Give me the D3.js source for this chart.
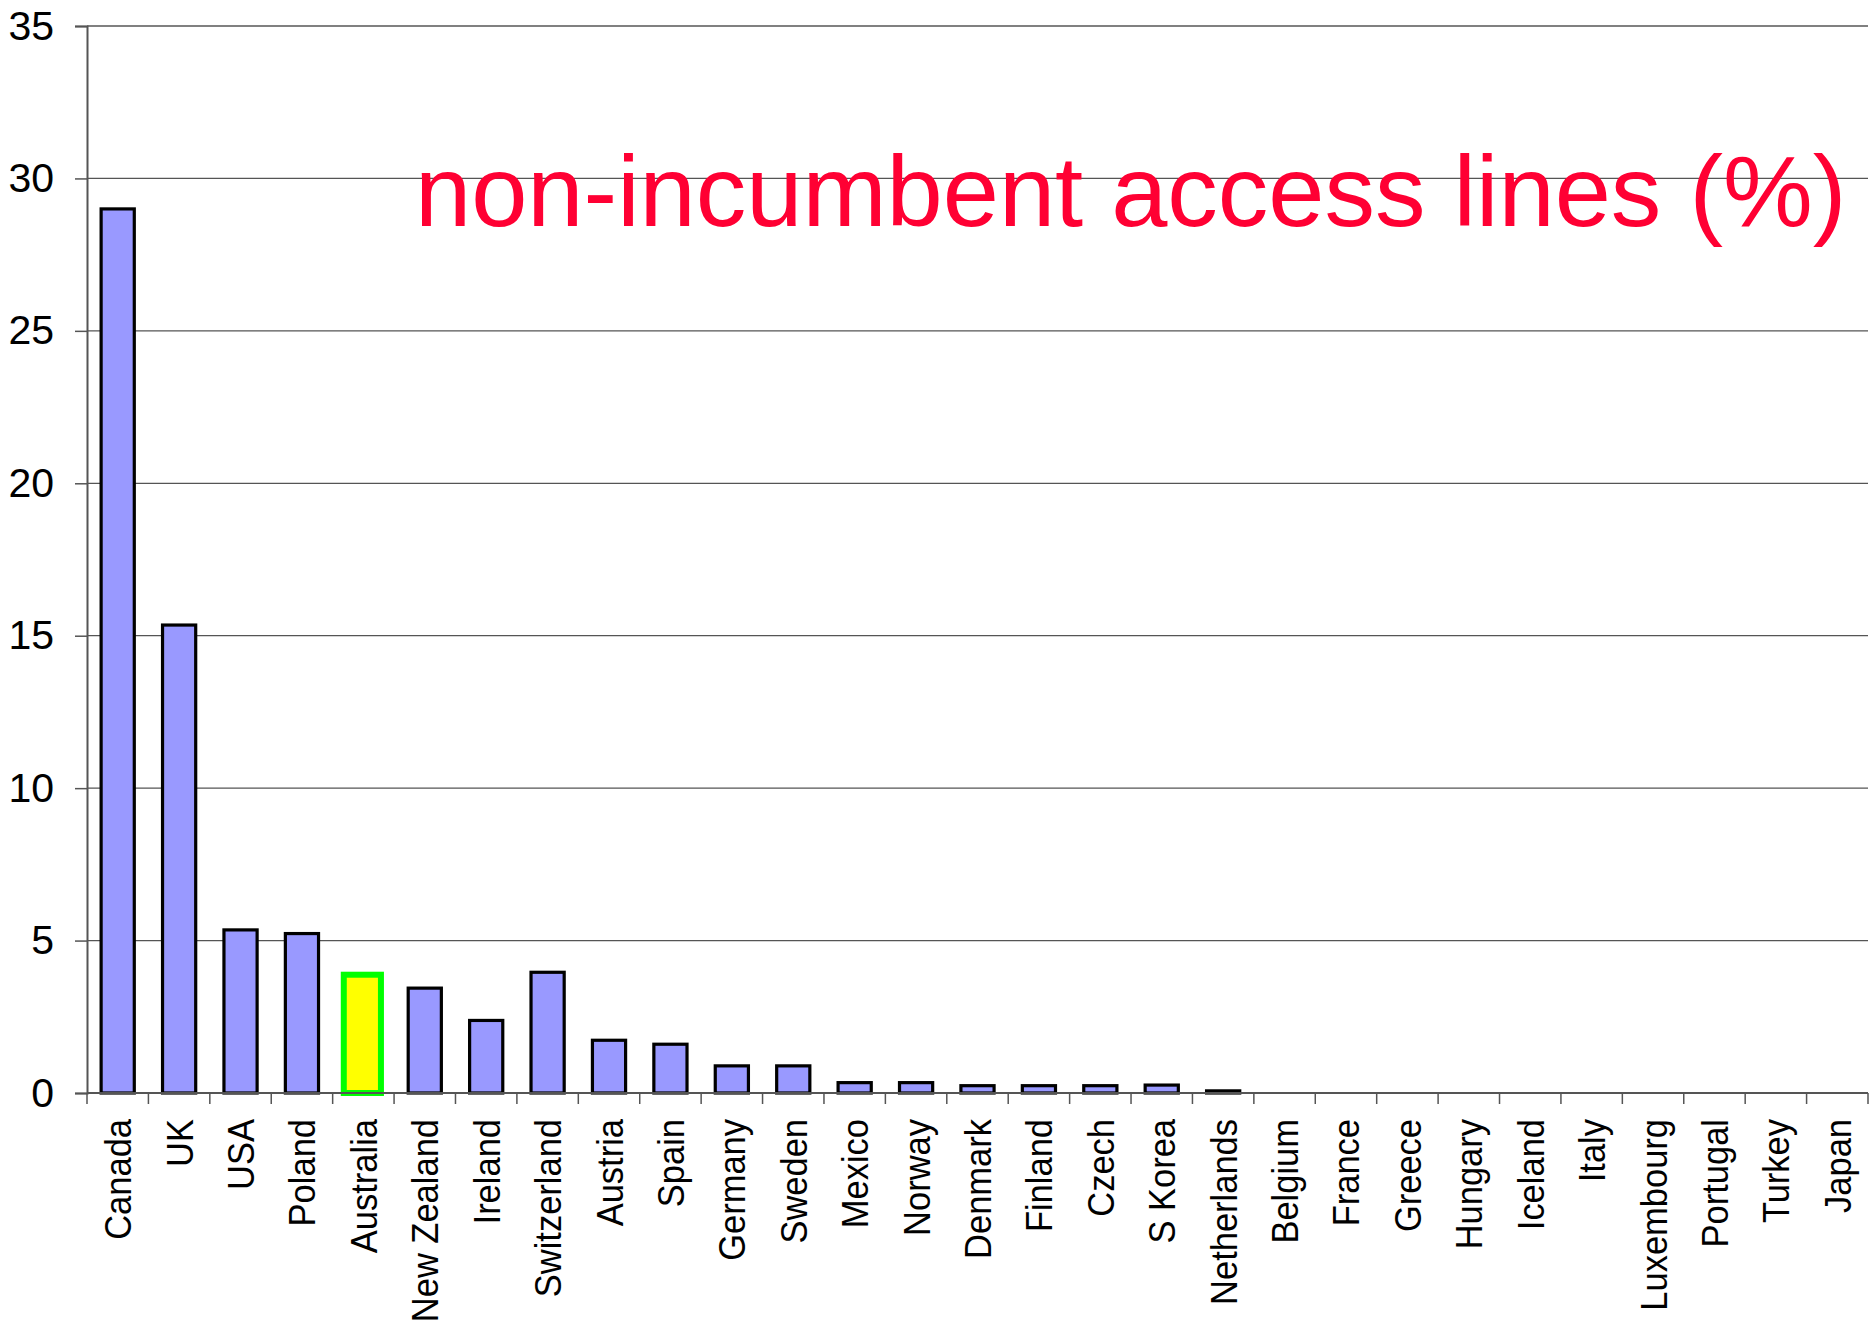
<!DOCTYPE html>
<html>
<head>
<meta charset="utf-8">
<script src="https://cdn.jsdelivr.net/npm/d3@7"></script>
<style>
  html, body { margin: 0; padding: 0; background: #fff; }
  svg { display: block; }
</style>
</head>
<body>
<script>
// Share of access lines held by non-incumbent operators, by country (%)
const countries = ["Canada", "UK", "USA", "Poland", "Australia", "New Zealand", "Ireland",
  "Switzerland", "Austria", "Spain", "Germany", "Sweden", "Mexico", "Norway", "Denmark",
  "Finland", "Czech", "S Korea", "Netherlands", "Belgium", "France", "Greece", "Hungary",
  "Iceland", "Italy", "Luxembourg", "Portugal", "Turkey", "Japan"];
const shares = [29.0, 15.35, 5.35, 5.23, 3.88, 3.44, 2.38, 3.96, 1.73, 1.6, 0.89, 0.89, 0.34,
  0.34, 0.24, 0.24, 0.24, 0.26, 0.07, 0, 0, 0, 0, 0, 0, 0, 0, 0, 0];
const highlighted = ["Australia"];
const yTicks = [0, 5, 10, 15, 20, 25, 30, 35];
const title = "non-incumbent access lines (%)";

const W = 1869, H = 1331;
const plotLeft = 87, plotRight = 1868, plotTop = 26, plotBottom = 1093;

const svg = d3.select("body").append("svg").attr("width", W).attr("height", H);

const x = d3.scaleBand().domain(countries).range([plotLeft, plotRight])
  .paddingInner(0.46).paddingOuter(0.23);
const y = d3.scaleLinear().domain([0, 35]).range([plotBottom, plotTop]);

// horizontal gridlines
svg.append("g").selectAll("line").data(yTicks.filter(d => d > 0 && d < 35)).join("line")
  .attr("x1", plotLeft).attr("x2", plotRight)
  .attr("y1", d => y(d)).attr("y2", d => y(d))
  .attr("stroke", "#555").attr("stroke-width", 1.2);

// top border
svg.append("line").attr("x1", plotLeft).attr("x2", plotRight).attr("y1", y(35)).attr("y2", y(35))
  .attr("stroke", "#808080").attr("stroke-width", 2.2);

// y axis
const yAxis = svg.append("g").attr("transform", `translate(${plotLeft},0)`)
  .call(d3.axisLeft(y).tickValues(yTicks).tickSize(12).tickPadding(21).tickFormat(d3.format("d")));
yAxis.select(".domain").attr("stroke", "#555").attr("stroke-width", 2);
yAxis.selectAll(".tick line").attr("stroke", "#555").attr("stroke-width", 1.5);
yAxis.selectAll(".tick text")
  .attr("font-family", "'Liberation Sans', Arial, sans-serif")
  .attr("font-size", 41).attr("fill", "#000");

// bars
svg.append("g").selectAll("rect").data(countries).join("rect")
  .attr("x", (d) => highlighted.includes(d) ? x(d) - 3 : x(d))
  .attr("width", (d) => highlighted.includes(d) ? x.bandwidth() + 4 : x.bandwidth())
  .attr("y", (d, i) => y(shares[i]))
  .attr("height", (d, i) => y(0) - y(shares[i]))
  .attr("fill", d => highlighted.includes(d) ? "#ffff00" : "#9999ff")
  .attr("stroke", d => highlighted.includes(d) ? "#00ff00" : "#000")
  .attr("stroke-width", d => highlighted.includes(d) ? 6 : 3.2)
  .style("display", (d, i) => shares[i] > 0 ? null : "none");

// x axis with ticks between categories
const xAxis = svg.append("g");
xAxis.append("line").attr("x1", plotLeft).attr("x2", plotRight)
  .attr("y1", plotBottom).attr("y2", plotBottom)
  .attr("stroke", "#555").attr("stroke-width", 2.2);
const boundaries = countries.map(c => x(c) - x.step() * x.paddingInner() / 2);
boundaries.push(plotRight);
xAxis.selectAll("line.tk").data(boundaries).join("line").attr("class", "tk")
  .attr("x1", d => d).attr("x2", d => d).attr("y1", plotBottom).attr("y2", plotBottom + 11)
  .attr("stroke", "#555").attr("stroke-width", 1.5);

// rotated category labels
xAxis.selectAll("text").data(countries).join("text")
  .attr("transform", d => `translate(${x(d) + x.bandwidth() / 2},1119) rotate(-90) scale(0.92,1)`)
  .attr("text-anchor", "end")
  .attr("dy", "0.36em")
  .attr("font-family", "'Liberation Sans', Arial, sans-serif")
  .attr("font-size", 37.5)
  .attr("fill", "#000")
  .text(d => d);

// chart title
svg.append("text")
  .attr("x", 415).attr("y", 226)
  .attr("font-family", "'Liberation Sans', Arial, sans-serif")
  .attr("font-size", 101)
  .attr("fill", "#ff0033")
  .text(title);
</script>
</body>
</html>
